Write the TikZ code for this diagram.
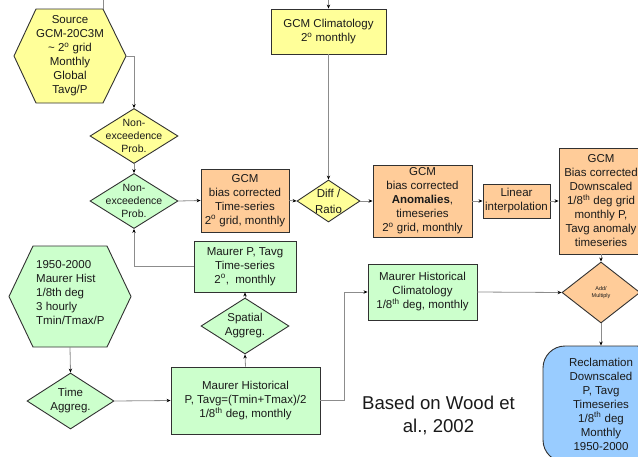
\documentclass[tikz,border=0pt]{standalone}
\usepackage{fontspec}
\setmainfont{Liberation Sans}
\usetikzlibrary{shapes.geometric,arrows.meta,positioning}
\definecolor{cyel}{HTML}{FFFF99}
\definecolor{cgrn}{HTML}{CCFFCC}
\definecolor{corg}{HTML}{FFCC99}
\definecolor{cblu}{HTML}{99CCFF}
\definecolor{cline}{HTML}{8C8C8C}
\definecolor{ctxt}{HTML}{1A1A1A}
\tikzset{
  base/.style={draw=ctxt!90, line width=0.9pt, text=ctxt, align=center, inner sep=0pt,
    font=\fontsize{11.5}{14}\selectfont},
  boxn/.style={base, rectangle},
  dian/.style={base, diamond},
  txt/.style={align=center, inner sep=0pt, text=ctxt, font=\fontsize{11.5}{14}\selectfont},
  conn/.style={draw=cline, line width=0.8pt},
  arr/.style={conn, -{Stealth[length=4pt,width=3.4pt,color=black]}},
}
\begin{document}
\begin{tikzpicture}[x=1pt,y=-1pt]
\useasboundingbox (0,0) rectangle (638,456);
\clip (0,0) rectangle (638,456);

% Source hexagon (yellow)
\filldraw[fill=cyel, draw=ctxt!90, line width=0.9pt]
  (14,56) -- (36,9) -- (103,9) -- (126,56) -- (103,103) -- (36,103) -- cycle;
\node[txt, minimum width=112pt, minimum height=94pt] (src) at (70,56)
  {Source\\GCM-20C3M\\\textasciitilde{} 2\textsuperscript{o} grid\\Monthly\\Global\\Tavg/P};
\coordinate (srctop) at (103,9);
\coordinate (srcin) at (103,0);

% Green hexagon
\filldraw[fill=cgrn, draw=ctxt!90, line width=0.9pt]
  (9,296.5) -- (33,246) -- (107,246) -- (131,296.5) -- (107,347) -- (33,347) -- cycle;
\node[txt, minimum width=122pt, minimum height=101pt] (hist) at (70,296.5) {};
\node[txt, align=left, anchor=west] (histtxt) at (36,293)
  {1950-2000\\Maurer Hist\\1/8th deg\\3 hourly\\Tmin/Tmax/P};

% Non-exceedence diamonds
\node[dian, fill=cyel, minimum width=88pt, minimum height=55pt,
  label={[txt, font=\fontsize{10.5}{13}\selectfont]center:Non-\\exceedence\\Prob.}] (nep1) at (134,136) {};
\node[dian, fill=cgrn, minimum width=88pt, minimum height=55pt,
  label={[txt, font=\fontsize{10.5}{13}\selectfont]center:Non-\\exceedence\\Prob.}] (nep2) at (134,201) {};

% GCM Climatology
\node[boxn, fill=cyel, minimum width=115pt, minimum height=45pt] (clim) at (328.5,31.5)
  {GCM Climatology\\2\textsuperscript{o} monthly};
\coordinate (climin) at (328.5,0);

% GCM bias corrected time series
\node[boxn, fill=corg, minimum width=88pt, minimum height=63pt] (gbc) at (245,200.5)
  {GCM\\bias corrected\\Time-series\\2\textsuperscript{o} grid, monthly};

% Diff / Ratio
\node[dian, fill=cyel, minimum width=63pt, minimum height=42pt,
  label={[txt, font=\fontsize{11.5}{16}\selectfont]center:Diff /\\Ratio}] (diff) at (328.5,201) {};

% Anomalies
\node[boxn, fill=corg, minimum width=99pt, minimum height=72pt] (anom) at (422.5,201)
  {GCM\\bias corrected\\\textbf{Anomalies},\\timeseries\\2\textsuperscript{o} grid, monthly};

% Linear interpolation
\node[boxn, fill=corg, minimum width=67pt, minimum height=34pt] (lin) at (516.5,201)
  {Linear\\interpolation};

% GCM downscaled
\node[boxn, fill=corg, minimum width=84pt, minimum height=106pt] (gds) at (601,201)
  {GCM\\Bias corrected\\Downscaled\\1/8\textsuperscript{th} deg grid\\monthly P,\\Tavg anomaly\\timeseries};

% Add / Multiply
\node[dian, fill=corg, minimum width=78pt, minimum height=61pt,
  label={[txt, font=\fontsize{5.5}{7}\selectfont]center:Add/\\Multiply}] (addm) at (601,292.5) {};

% Reclamation
\node[boxn, fill=cblu, rounded corners=22pt, minimum width=116pt, minimum height=116pt] (recl) at (601,404)
  {Reclamation\\Downscaled\\P, Tavg\\Timeseries\\1/8\textsuperscript{th} deg\\Monthly\\1950-2000};

% Maurer P, Tavg time-series
\node[boxn, fill=cgrn, minimum width=102pt, minimum height=51pt] (mpt) at (245,266.5)
  {Maurer P, Tavg\\Time-series\\2\textsuperscript{o},~ monthly};

% Spatial aggregation
\node[dian, fill=cgrn, minimum width=88pt, minimum height=56pt,
  label={[txt]center:Spatial\\Aggreg.}] (sag) at (245,326) {};

% Maurer Historical
\node[boxn, fill=cgrn, minimum width=149pt, minimum height=67pt] (mh) at (245.5,400.5)
  {Maurer Historical\\P, Tavg=(Tmin+Tmax)/2\\1/8\textsuperscript{th} deg, monthly};

% Maurer Historical Climatology
\node[boxn, fill=cgrn, minimum width=109pt, minimum height=56pt] (mhc) at (422.5,292)
  {Maurer Historical\\Climatology\\1/8\textsuperscript{th} deg, monthly};

% Time aggregation
\node[dian, fill=cgrn, minimum width=87pt, minimum height=56pt,
  label={[txt]center:Time\\Aggreg.}] (tag) at (70.5,401) {};

% Citation
\node[txt, font=\fontsize{18.6}{23}\selectfont] (cite) at (438.5,415.5) {Based on Wood et\\al., 2002};

% Connectors
\draw[conn] (srcin) -- (srctop);
\draw[arr] (src.east) -| (nep1.north);
\draw[arr] (nep1.south) -- (nep2.north);
\draw[arr] (nep2.east) -- (gbc.west);
\draw[arr] (mpt.west) -| (nep2.south);
\draw[arr] (climin) -- (clim.north);
\draw[arr] (clim.south) -- (diff.north);
\draw[arr] (gbc.east) -- (diff.west);
\draw[arr] (diff.east) -- (anom.west);
\draw[arr] (anom.east) -- (lin.west);
\draw[arr] (lin.east) -- (gds.west);
\draw[arr] (gds.south) -- (addm.north);
\draw[arr] (addm.south) -- (recl.north);
\draw[arr] (mhc.east) -- (addm.west);
\draw[arr] (mh.east) -- ++(23.5,0) |- (mhc.west);
\draw[arr] (mh.north) -- (sag.south);
\draw[arr] (sag.north) -- (mpt.south);
\draw[arr] (hist.south) -- (tag.north);
\draw[arr] (tag.east) -- (mh.west);
\end{tikzpicture}
\end{document}
